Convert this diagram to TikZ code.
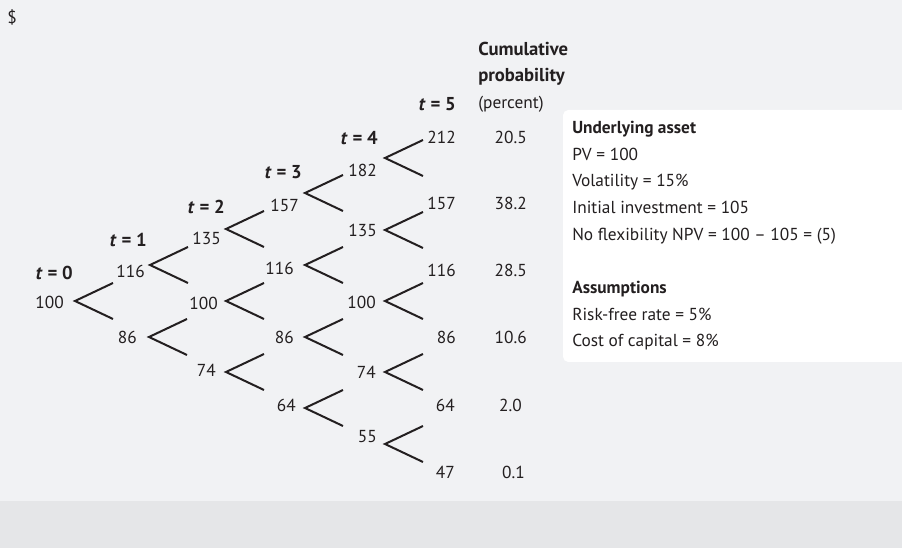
\documentclass[tikz,border=0pt]{standalone}
\usepackage{fontspec}
\setmainfont{PT Sans}
\usepackage{tikz}
\usetikzlibrary{positioning,calc}
\definecolor{panel}{HTML}{F1F2F4}
\definecolor{band}{HTML}{E5E6E8}
\definecolor{ink}{HTML}{231F20}

\begin{document}
\begin{tikzpicture}[x=0.75pt,y=-0.75pt,
  val/.style={anchor=east,inner sep=0pt,text=ink,font=\fontsize{13}{15}\selectfont},
  tlab/.style={anchor=east,inner sep=0pt,text=ink,font=\fontsize{14}{16}\selectfont\bfseries},
  fork/.style={draw=ink,line width=1.5pt},
  note/.style={anchor=base west,inner sep=0pt,align=left,text=ink,font=\fontsize{13}{20}\selectfont}]
\useasboundingbox (0,0) rectangle (902,548);
\fill[panel] (0,0) rectangle (902,501);
\fill[band] (0,501) rectangle (902,548);
\fill[white,rounded corners=4pt] (563,110) rectangle (915,362);

\node[val,anchor=west] (cur) at (7,17) {\$};

% time labels
\node[tlab] (t0) at (73,273) {\textit{t} = 0};
\node[tlab] (t1) at (147,240) {\textit{t} = 1};
\node[tlab] (t2) at (225,207) {\textit{t} = 2};
\node[tlab] (t3) at (302,172) {\textit{t} = 3};
\node[tlab] (t4) at (378,138) {\textit{t} = 4};
\node[tlab] (t5) at (456,104) {\textit{t} = 5};

% asset values
\node[val] (v00) at (64,302) {100};
\node[val] (v10) at (145,271) {116};
\node[val] (v11) at (137,337) {86};
\node[val] (v20) at (221,238) {135};
\node[val] (v21) at (218,303) {100};
\node[val] (v22) at (216,370) {74};
\node[val] (v30) at (299,205) {157};
\node[val] (v31) at (294,268) {116};
\node[val] (v32) at (294,337) {86};
\node[val] (v33) at (296,405) {64};
\node[val] (v40) at (377,170) {182};
\node[val] (v41) at (377,230) {135};
\node[val] (v42) at (376,302) {100};
\node[val] (v43) at (376,372) {74};
\node[val] (v44) at (377,437) {55};
\node[val] (v50) at (456,137) {212};
\node[val] (v51) at (456,203) {157};
\node[val] (v52) at (456,270) {116};
\node[val] (v53) at (456,337) {86};
\node[val] (v54) at (455,405) {64};
\node[val] (v55) at (455,472) {47};

% cumulative probability
\node[note,font=\fontsize{14}{20}\selectfont\bfseries] (cum) at (478,82) {Cumulative\\probability};
\node[note] (pct) at (478,109) {(percent)};
\node[val] (p0) at (527,137) {20.5};
\node[val] (p1) at (527,203) {38.2};
\node[val] (p2) at (527,270) {28.5};
\node[val] (p3) at (527,337) {10.6};
\node[val] (p4) at (522,405) {2.0};
\node[val] (p5) at (525,472) {0.1};

% branch points
\coordinate (f00) at (75,301);
\coordinate (f10) at (150,265);
\coordinate (f11) at (149,337);
\coordinate (f20) at (226,229);
\coordinate (f21) at (226,301);
\coordinate (f22) at (226,372);
\coordinate (f30) at (305,193);
\coordinate (f31) at (305,265);
\coordinate (f32) at (305,337);
\coordinate (f33) at (305,408);
\coordinate (f40) at (385,158);
\coordinate (f41) at (385,230);
\coordinate (f42) at (385,301);
\coordinate (f43) at (385,372);
\coordinate (f44) at (385,444);
\foreach \f in {f00,f10,f11,f20,f21,f22,f30,f31,f32,f33,f40,f41,f42,f43,f44}
  \draw[fork] ($(\f)+(38,-18)$) -- (\f) -- ($(\f)+(38,18)$);

% inputs
\node[note] (inp) at (572,347) {\textbf{Underlying asset}\\
PV = 100\\
Volatility = 15\%\\
Initial investment = 105\\
No flexibility NPV = 100 -- 105 = (5)\\[20pt]
\textbf{Assumptions}\\
Risk-free rate = 5\%\\
Cost of capital = 8\%};
\end{tikzpicture}
\end{document}
